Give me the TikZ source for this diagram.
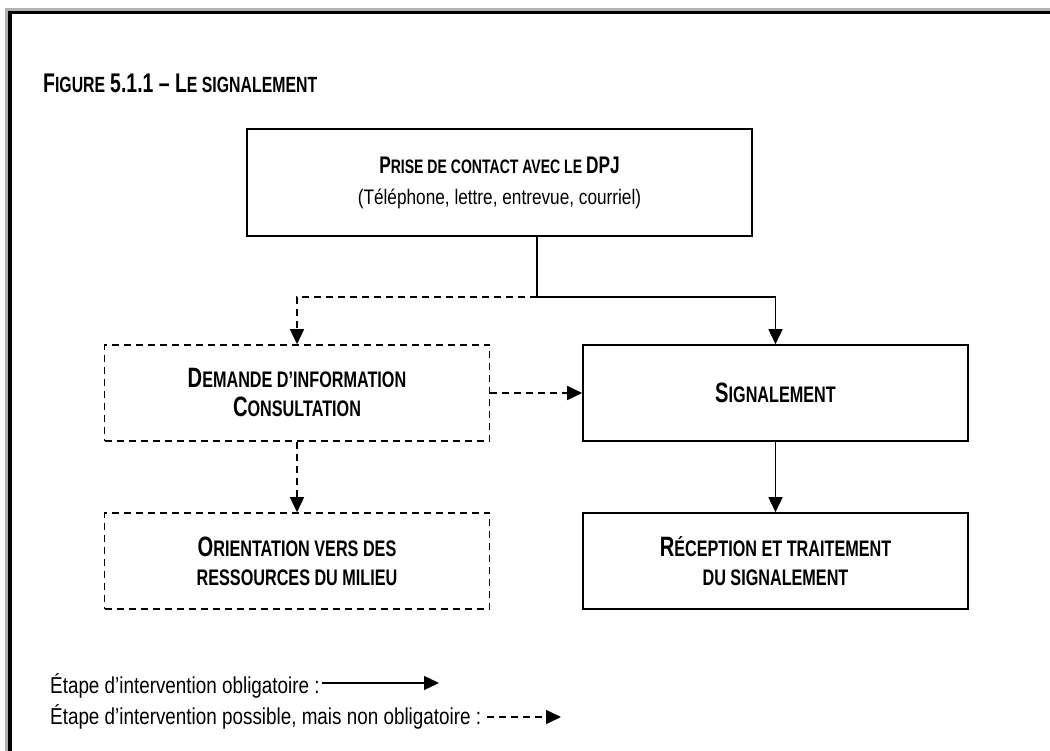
\documentclass[tikz,border=0pt]{standalone}
\usepackage{fontspec}
\setmainfont{Liberation Sans}[FakeStretch=0.82]
\newfontfamily\capsfont{Liberation Sans Bold}[FakeStretch=0.72]
\usetikzlibrary{arrows.meta}

% fake small caps: a large initial, the rest in smaller capitals
\newcommand{\bigc}[1]{{\fontsize{28}{28}\selectfont #1}}
\newcommand{\smc}[1]{{\fontsize{22.5}{28}\selectfont #1}}

\tikzset{
  stepbox/.style={draw, line width=1.6pt, minimum width=385pt, minimum height=96pt,
    inner sep=0pt, align=center, font=\capsfont\fontsize{22.5}{29}\selectfont},
  optbox/.style={stepbox, dash pattern=on 7pt off 5pt},
  flow/.style={line width=1.6pt, -{Triangle[length=15pt,width=14pt]}},
  optflow/.style={flow, dash pattern=on 7pt off 5pt},
  legend/.style={anchor=west, inner sep=0pt, font=\fontsize{23}{27}\selectfont}
}

\begin{document}
\begin{tikzpicture}[x=1pt,y=-1pt]
  \useasboundingbox (0,0) rectangle (1050,751);
  \fill[white] (0,0) rectangle (1050,751);

  % outer frame with a grey shadow line
  \draw[gray!60, line width=3pt] (6.5,760) -- (6.5,9.5) -- (1060,9.5);
  \draw[black, line width=3.5pt] (10,760) -- (10,12.5) -- (1060,12.5);

  % title
  \node[anchor=base west, inner sep=0pt, font=\capsfont] (title) at (43,93)
    {{\fontsize{27}{30}\selectfont F}{\fontsize{22}{30}\selectfont IGURE}\hspace{5pt}%
     {\fontsize{27}{30}\selectfont 5.1.1 – L}{\fontsize{22}{30}\selectfont E SIGNALEMENT}};

  % steps
  \node[stepbox, minimum width=505pt, minimum height=107pt,
        font=\capsfont\fontsize{19.5}{31}\selectfont] (contact) at (499.5,182.5)
    {{\fontsize{24}{31}\selectfont P}RISE DE CONTACT AVEC LE {\fontsize{24}{31}\selectfont DPJ}\\
     {\normalfont\fontsize{21}{31}\selectfont (Téléphone, lettre, entrevue, courriel)}};
  \node[optbox] (demande) at (297,393)
    {\bigc{D}\smc{EMANDE D’INFORMATION}\\\bigc{C}\smc{ONSULTATION}};
  \node[stepbox] (signal) at (775.5,393) {\bigc{S}\smc{IGNALEMENT}};
  \node[optbox] (orient) at (297,561)
    {\bigc{O}\smc{RIENTATION VERS DES}\\\smc{RESSOURCES DU MILIEU}};
  \node[stepbox] (recep) at (775.5,561)
    {\bigc{R}\smc{ÉCEPTION ET TRAITEMENT}\\\smc{DU SIGNALEMENT}};

  % connectors
  \coordinate (fork) at (537,297);
  \draw[line width=1.6pt] (contact.south -| fork) -- (fork);
  \draw[flow] (fork) -| (signal.north);
  \draw[optflow] (fork) -| (demande.north);
  \draw[optflow] (demande.east) -- (signal.west);
  \draw[optflow] (demande.south) -- (orient.north);
  \draw[flow] (signal.south) -- (recep.north);

  % legend
  \node[legend] (leg1) at (50,686) {Étape d’intervention obligatoire :};
  \node[legend] (leg2) at (50,717) {Étape d’intervention possible, mais non obligatoire :};
  \coordinate (leg1end) at (439,683);
  \coordinate (leg2end) at (561,717);
  \draw[flow, line width=1.4pt] ([xshift=2pt]leg1.east |- leg1end) -- (leg1end);
  \draw[optflow, line width=1.4pt] ([xshift=6pt]leg2.east |- leg2end) -- (leg2end);
\end{tikzpicture}
\end{document}
